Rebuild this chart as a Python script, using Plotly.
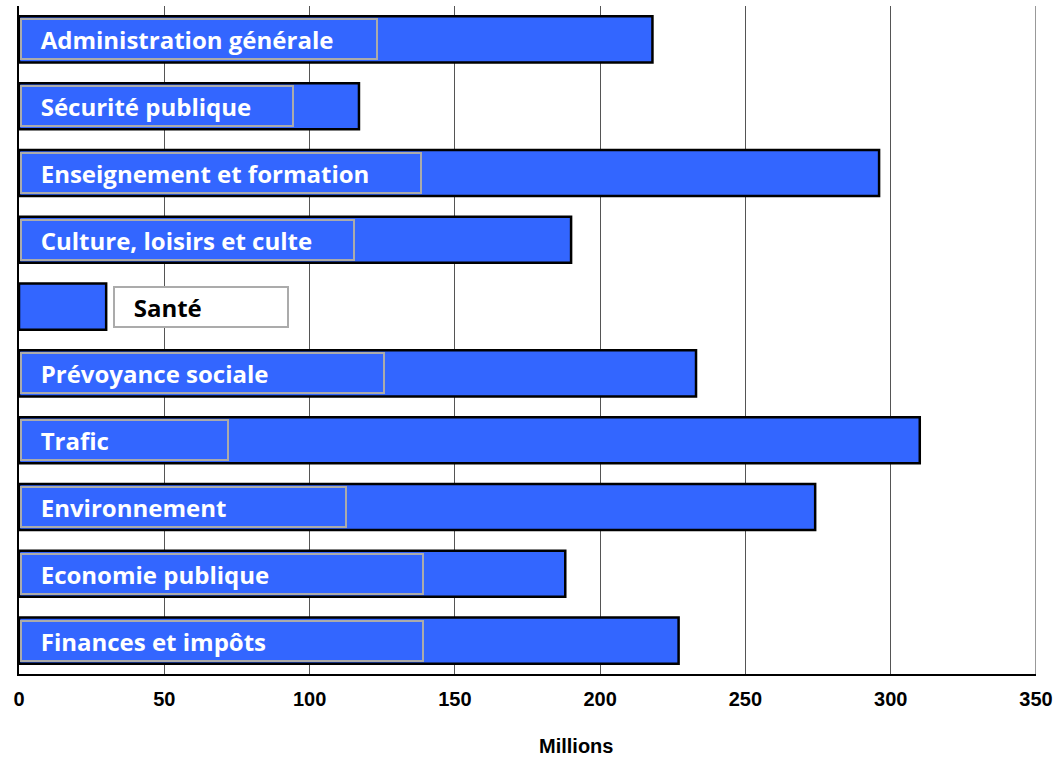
import plotly.graph_objects as go

categories = ["Administration générale", "Sécurité publique", "Enseignement et formation",
              "Culture, loisirs et culte", "Santé", "Prévoyance sociale", "Trafic",
              "Environnement", "Economie publique", "Finances et impôts"]
values = [218, 117, 296, 190, 30, 233, 310, 274, 188, 227]
tick_vals = [0, 50, 100, 150, 200, 250, 300, 350]
x_title = "Millions"

# label box widths in pixels (style)
box_px = [358, 274, 402, 335, 176, 365, 209, 327, 404, 404]
outside = [False, False, False, False, True, False, False, False, False, False]

fig = go.Figure()
fig.add_trace(go.Bar(
    y=categories, x=values, orientation="h",
    marker=dict(color="#3366FF", line=dict(color="black", width=2.5)),
    width=0.69, hoverinfo="x+y",
))

annotations = []
for cat, val, w, out in zip(categories, values, box_px, outside):
    annotations.append(dict(
        x=val if out else 0, y=cat, xref="x", yref="y",
        xanchor="left", yanchor="middle",
        xshift=7 if out else 1,
        text="&nbsp;&nbsp;&nbsp;" + cat,
        showarrow=False, align="left",
        width=w - 4, height=38, borderpad=0,
        bordercolor="#ABABAB", borderwidth=2,
        bgcolor="white" if out else "rgba(0,0,0,0)",
        font=dict(family="Open Sans", size=24, color="black" if out else "white", weight="bold"),
    ))
annotations.append(dict(
    x=0.548, y=-0.108, xref="paper", yref="paper", text="<b>" + x_title + "</b>",
    showarrow=False, xanchor="center", yanchor="middle",
    font=dict(family="Liberation Sans", size=20, color="black"),
))

fig.update_layout(
    width=1058, height=758,
    margin=dict(l=19, r=22, t=6, b=84),
    plot_bgcolor="white", paper_bgcolor="white",
    showlegend=False, bargap=0.31,
    annotations=annotations,
    shapes=[dict(type="line", xref="x", yref="paper", x0=tick_vals[-1], x1=tick_vals[-1],
                 y0=0, y1=1, line=dict(color="#777777", width=1.5), layer="below")],
    xaxis=dict(range=[0, 350], tickvals=tick_vals, ticktext=[f"<b>{t}</b>" for t in tick_vals],
               showgrid=True, gridcolor="#555555", gridwidth=1,
               showline=True, linecolor="black", linewidth=2, zeroline=False,
               ticks="", ticklabelstandoff=6,
               tickfont=dict(family="Liberation Sans", size=20, color="black")),
    yaxis=dict(autorange="reversed", showticklabels=False, showgrid=False,
               showline=True, linecolor="black", linewidth=2, ticks=""),
)

fig.write_html("out.html", config={"displayModeBar": False},
               post_script="document.body.style.margin='0';")
